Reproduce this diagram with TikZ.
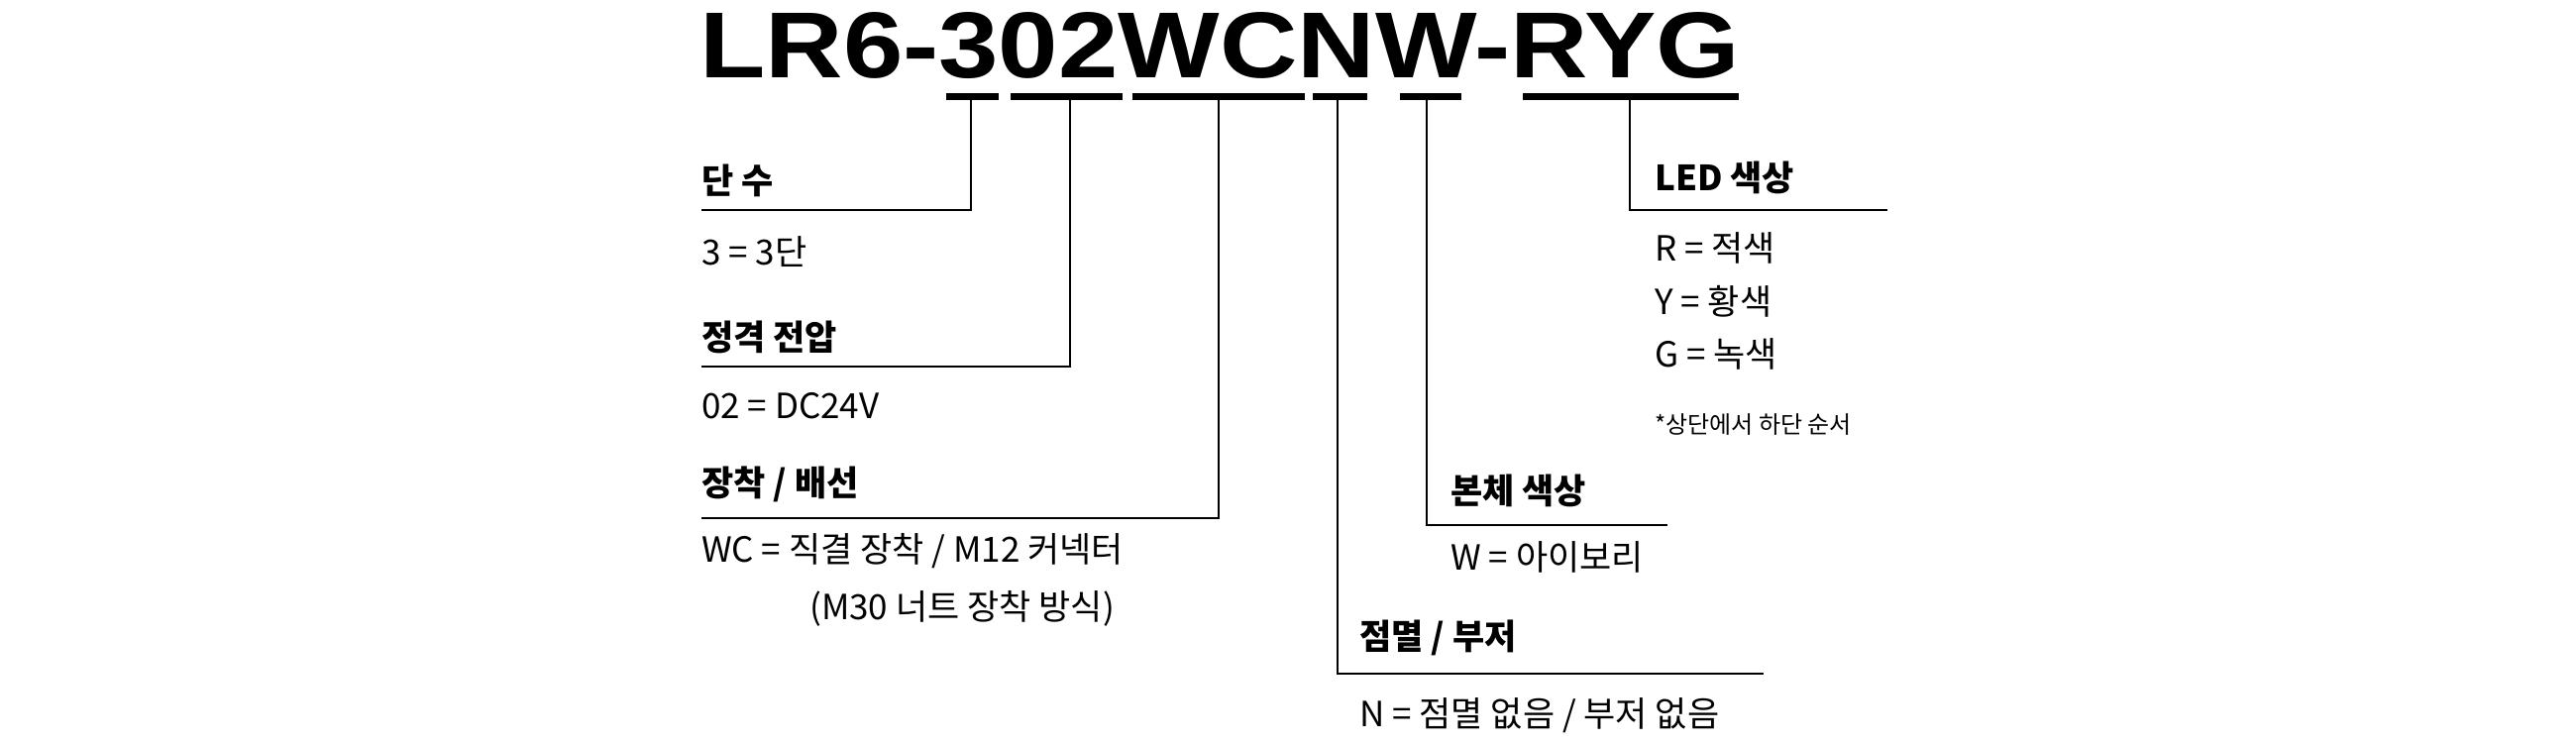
\documentclass[tikz,border=0pt]{standalone}
\usepackage{fontspec}
\setmainfont{Noto Sans CJK KR}
\newfontfamily\titlefont{Liberation Sans}
\begin{document}
\begin{tikzpicture}[x=1pt,y=-1pt,
  lbl/.style={anchor=base west,inner sep=0pt,font=\fontsize{35}{40}\selectfont},
  hd/.style={lbl,font=\fontsize{35}{40}\selectfont\bfseries},
  note/.style={anchor=base west,inner sep=0pt,font=\fontsize{24}{28}\selectfont},
  ul/.style={line width=7pt},
  ln/.style={line width=1.6pt}]
\useasboundingbox (0,0) rectangle (2600,750);
\node[anchor=base west,inner sep=0pt] (title) at (706,78) {\resizebox{1050pt}{66pt}{\titlefont\bfseries\fontsize{96}{100}\selectfont LR6-302WCNW-RYG}};
% underlines
\foreach \a/\b/\n in {955/1008/u1,1020/1133/u2,1143/1317/u3,1325/1380/u4,1413/1475/u5,1537/1755/u6}
  \draw[ul] (\a,97) -- (\b,97);
\foreach \x/\n in {980/a,1080/b,1230/c,1350/d,1440/e,1645/f} \coordinate (t\n) at (\x,100);
\coordinate (ea) at (708,212); \coordinate (eb) at (708,370); \coordinate (ec) at (708,523);
\coordinate (ed) at (1780,680); \coordinate (ee) at (1683,530); \coordinate (ef) at (1905,212);
\draw[ln] (ta) |- (ea);
\draw[ln] (tb) |- (eb);
\draw[ln] (tc) |- (ec);
\draw[ln] (td) |- (ed);
\draw[ln] (te) |- (ee);
\draw[ln] (tf) |- (ef);
\node[hd] (h1) at (708,195) {단 수};
\node[lbl] (b1) at (708,267) {3 = 3단};
\node[hd] (h2) at (708,353) {정격 전압};
\node[lbl] (b2) at (708,422) {02 = DC24V};
\node[hd] (h3) at (708,500) {장착 / 배선};
\node[lbl] (b3) at (708,567) {WC = 직결 장착 / M12 커넥터};
\node[lbl] (b3b) at (817,625) {(M30 너트 장착 방식)};
\node[hd] (h4) at (1372,655) {점멸 / 부저};
\node[lbl] (b4) at (1372,733) {N = 점멸 없음 / 부저 없음};
\node[hd] (h5) at (1464,508) {본체 색상};
\node[lbl] (b5) at (1464,575) {W = 아이보리};
\node[hd] (h6) at (1670,192) {LED 색상};
\node[lbl] (b6) at (1670,263) {R = 적색};
\node[lbl] (b7) at (1670,317) {Y = 황색};
\node[lbl] (b8) at (1670,370) {G = 녹색};
\node[note] (n1) at (1670,437) {*상단에서 하단 순서};
\end{tikzpicture}
\end{document}
